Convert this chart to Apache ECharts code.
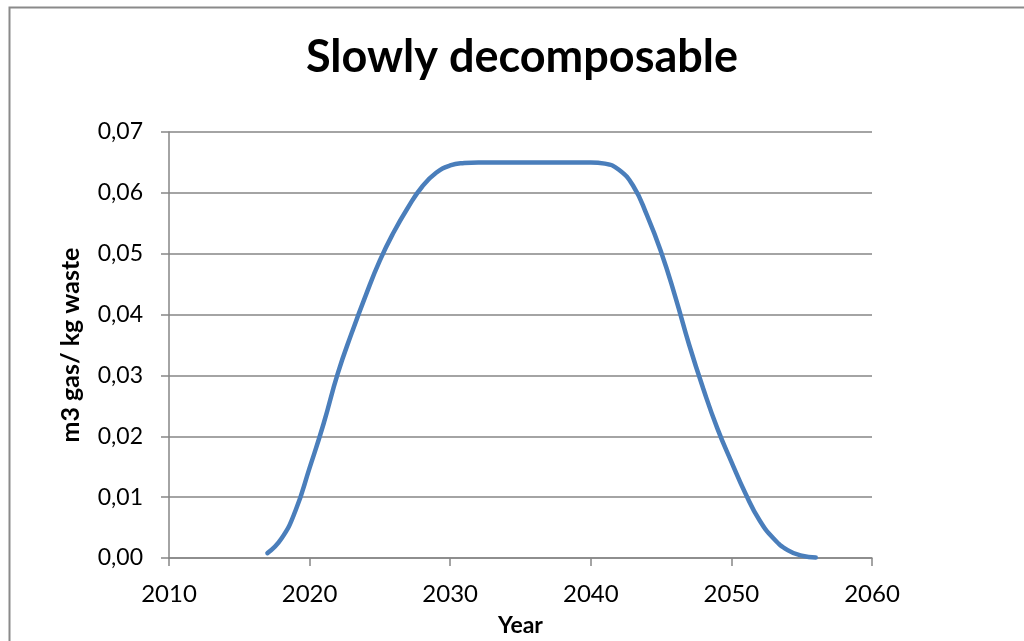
<!DOCTYPE html>
<html>
<head>
<meta charset="utf-8">
<script src="https://cdn.jsdelivr.net/npm/echarts@6/dist/echarts.min.js"></script>
<style>
html,body{margin:0;padding:0;background:#fff;}
#chart{width:1024px;height:641px;}
</style>
</head>
<body>
<div id="chart"></div>
<script>
const titleText = 'Slowly decomposable';
const xAxisName = 'Year';
const yAxisName = 'm3 gas/ kg waste';
const years = [2017,2018,2019,2020,2021,2022,2023,2024,2025,2026,2027,2028,2029,2030,2031,2032,2033,2034,2035,2036,2037,2038,2039,2040,2041,2042,2043,2044,2045,2046,2047,2048,2049,2050,2051,2052,2053,2054,2055,2056];
const gasValues = [0.0008,0.0032,0.0078,0.0148,0.0221,0.0303,0.0370,0.0432,0.0489,0.0536,0.0576,0.0610,0.0633,0.0645,0.0649,0.0650,0.0650,0.0650,0.0650,0.0650,0.0650,0.0650,0.0650,0.0650,0.0648,0.0638,0.0612,0.0563,0.0503,0.0430,0.0350,0.0278,0.0213,0.0158,0.0106,0.0062,0.0032,0.0013,0.0004,0.0001];
const xTicks = {min: 2010, max: 2060, interval: 10};
const yTicks = {min: 0, max: 0.07, interval: 0.01};

const seriesData = years.map((y, i) => [y, gasValues[i]]);
const FONT = 'Lato';
const chart = echarts.init(document.getElementById('chart'), null, {renderer: 'canvas'});
chart.setOption({
  animation: false,
  backgroundColor: '#ffffff',
  graphic: [{
    type: 'rect', left: 7, top: 5,
    shape: {x: 0, y: 0, width: 1100, height: 700},
    style: {fill: 'none', stroke: '#8a8a8a', lineWidth: 2},
    silent: true, z: -1
  }],
  title: {
    text: titleText, left: 517, top: 30, textAlign: 'center',
    textStyle: {fontFamily: FONT, fontWeight: 'bold', fontSize: 45, color: '#000'}
  },
  grid: {left: 169, right: 152, top: 132, bottom: 83, containLabel: false, outerBoundsMode: 'none'},
  xAxis: {
    type: 'value', min: xTicks.min, max: xTicks.max, interval: xTicks.interval,
    name: xAxisName, nameLocation: 'middle', nameGap: 56,
    nameTextStyle: {fontFamily: FONT, fontWeight: 'bold', fontSize: 23, color: '#000'},
    axisLine: {show: true, lineStyle: {color: '#868686', width: 1.5}},
    axisTick: {show: true, length: 8, lineStyle: {color: '#868686', width: 1.5}},
    axisLabel: {margin: 24, fontFamily: FONT, fontSize: 24, color: '#000', formatter: v => String(v)},
    splitLine: {show: false}
  },
  yAxis: {
    type: 'value', min: yTicks.min, max: yTicks.max, interval: yTicks.interval,
    name: yAxisName, nameLocation: 'middle', nameGap: 86,
    nameTextStyle: {fontFamily: FONT, fontWeight: 'bold', fontSize: 25, color: '#000'},
    axisLine: {show: true, lineStyle: {color: '#868686', width: 1.5}},
    axisTick: {show: true, length: 8, lineStyle: {color: '#868686', width: 1.5}},
    axisLabel: {margin: 26, fontFamily: FONT, fontSize: 23, color: '#000',
      formatter: v => v.toFixed(2).replace('.', ',')},
    splitLine: {show: true, lineStyle: {color: '#868686', width: 1.5}}
  },
  series: [{
    type: 'line', data: seriesData, smooth: 0.5, showSymbol: false,
    lineStyle: {color: '#4a7ebb', width: 4.5, cap: 'round'},
    itemStyle: {color: '#4a7ebb'}
  }]
});
</script>
</body>
</html>
